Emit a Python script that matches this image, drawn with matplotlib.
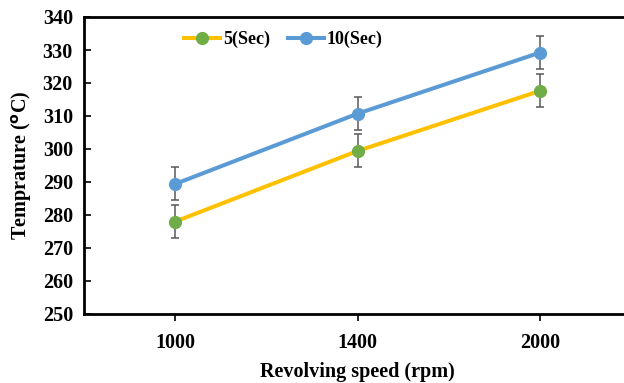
import matplotlib.pyplot as plt
import numpy as np

plt.rcParams['font.family'] = ['Liberation Serif', 'DejaVu Serif']
plt.rcParams['font.weight'] = 'bold'

speeds = ['1000', '1400', '2000']
temp_5s = [278.0, 299.4, 317.6]
temp_10s = [289.4, 310.7, 329.2]
err_5s = [5, 5, 5]
err_10s = [5, 5, 5]

fig = plt.figure(figsize=(6.24, 3.83), dpi=100)
ax = fig.add_axes([84 / 624, 1 - 314 / 383, 547 / 624, 297 / 383])

x = np.arange(len(speeds))
ax.errorbar(x, temp_5s, yerr=err_5s, color='#FFC000', lw=2.9, marker='o',
            ms=8.5, mfc='#70AD47', mec='#70AD47', ecolor='#595959',
            elinewidth=1.1, capsize=3, capthick=1.1, label='5(Sec)', zorder=3)
ax.errorbar(x, temp_10s, yerr=err_10s, color='#5B9BD5', lw=2.9, marker='o',
            ms=8.5, mfc='#5B9BD5', mec='#5B9BD5', ecolor='#595959',
            elinewidth=1.1, capsize=3, capthick=1.1, label='10(Sec)', zorder=3)

ax.set_xlim(-0.5, 2.5)
ax.set_ylim(250, 340)
ax.set_yticks(np.arange(250, 341, 10))
ax.set_xticks(x)
ax.set_xticklabels(speeds)
ax.tick_params(axis='y', direction='in', length=5, width=1.2, labelsize=14.5, pad=8)
ax.tick_params(axis='x', direction='out', length=5, width=1.2, labelsize=14.5, pad=9)
for lab in ax.get_xticklabels() + ax.get_yticklabels():
    lab.set_fontweight('bold')

for s in ['left', 'bottom', 'top']:
    ax.spines[s].set_linewidth(2)
ax.spines['right'].set_visible(False)

ax.set_xlabel('Revolving speed (rpm)', fontsize=14.5, fontweight='bold', labelpad=6)
ax.set_ylabel('Temprature ($\\mathbf{^o}$C)', fontsize=14.5, fontweight='bold', labelpad=6)

handles, labels = ax.get_legend_handles_labels()
handles = [h[0] for h in handles]
ax.legend(handles, labels, loc='center left', bbox_to_anchor=(0.16, 0.925), ncol=2,
          frameon=False, handlelength=2.0, columnspacing=1.0,
          handletextpad=0.15, borderpad=0.2, prop={'weight': 'bold', 'size': 13})

fig.savefig('out.png', dpi=100)
